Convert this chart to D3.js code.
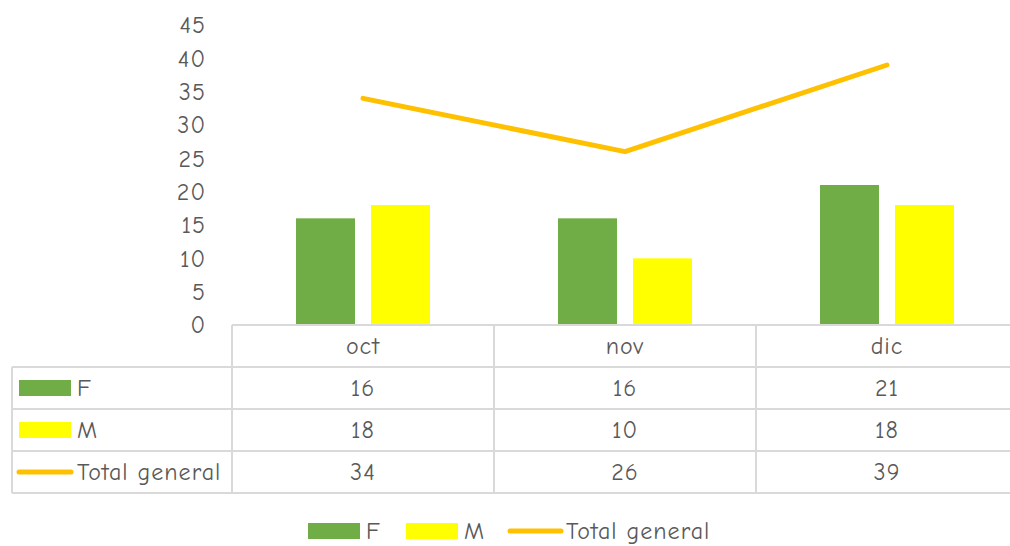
<!DOCTYPE html>
<html>
<head>
<meta charset="utf-8">
<script src="https://cdn.jsdelivr.net/npm/d3@7"></script>
<style>
  body { margin: 0; background: #fff; }
  text { font-family: "Comic Sans MS", "Comic Neue", "DejaVu Sans", sans-serif; fill: #595959; }
</style>
</head>
<body>
<div id="chart"></div>
<script>
const months = ['oct', 'nov', 'dic'];
const fVals = [16, 16, 21];
const mVals = [18, 10, 18];
const totalVals = [34, 26, 39];
const yTicks = [0, 5, 10, 15, 20, 25, 30, 35, 40, 45];

const width = 1010, height = 546;
const colF = '#70AD47', colM = '#FFFF00', colT = '#FFC000';
const grid = '#D9D9D9';
const fs = '24px', ls = '1px';

const svg = d3.select('#chart').append('svg')
  .attr('width', width).attr('height', height);

const x = d3.scaleBand().domain(months).range([232, 1018]);
const x1 = d3.scaleBand().domain(['F', 'M']).range([64, 198]).paddingInner(0.213);
const y = d3.scaleLinear().domain([0, 45]).range([325, 25]);

// y axis labels
svg.append('g').selectAll('text').data(yTicks).enter()
  .append('text')
  .attr('x', 206).attr('y', d => y(d))
  .attr('text-anchor', 'end').attr('dy', '0.35em')
  .style('font-size', fs).style('letter-spacing', ls)
  .text(d => d);

// bars
const rows = months.map((m, i) => ({m: m, F: fVals[i], M: mVals[i]}));
const g = svg.append('g');
rows.forEach(r => {
  ['F', 'M'].forEach(k => {
    g.append('rect')
      .attr('x', x(r.m) + x1(k))
      .attr('y', y(r[k]))
      .attr('width', x1.bandwidth())
      .attr('height', y(0) - y(r[k]))
      .attr('fill', k === 'F' ? colF : colM);
  });
});

// total line
const line = d3.line()
  .x((d, i) => x(months[i]) + x.bandwidth() / 2)
  .y(d => y(d));
svg.append('path').datum(totalVals)
  .attr('d', line)
  .attr('fill', 'none').attr('stroke', colT)
  .attr('stroke-width', 5).attr('stroke-linecap', 'round').attr('stroke-linejoin', 'round');

// data table
const rowH = 42, tableTop = 325, leftEdge = 12;
const tbl = svg.append('g').attr('stroke', grid).attr('stroke-width', 2).attr('fill', 'none');
tbl.append('line').attr('x1', 232).attr('x2', width).attr('y1', tableTop).attr('y2', tableTop);
for (let i = 1; i <= 4; i++) {
  tbl.append('line').attr('x1', leftEdge).attr('x2', width)
    .attr('y1', tableTop + i * rowH).attr('y2', tableTop + i * rowH);
}
tbl.append('line').attr('x1', leftEdge).attr('x2', leftEdge).attr('y1', tableTop + rowH).attr('y2', tableTop + 4 * rowH);
months.forEach(m => {
  tbl.append('line').attr('x1', x(m)).attr('x2', x(m)).attr('y1', tableTop).attr('y2', tableTop + 4 * rowH);
});

// header
svg.append('g').selectAll('text').data(months).enter()
  .append('text')
  .attr('x', d => x(d) + x.bandwidth() / 2)
  .attr('y', tableTop + rowH / 2).attr('dy', '0.35em')
  .attr('text-anchor', 'middle').style('font-size', fs).style('letter-spacing', ls)
  .text(d => d);

const series = [
  {name: 'F', vals: fVals, color: colF, type: 'bar'},
  {name: 'M', vals: mVals, color: colM, type: 'bar'},
  {name: 'Total general', vals: totalVals, color: colT, type: 'line'}
];

series.forEach((s, si) => {
  const cy = tableTop + (si + 1) * rowH + rowH / 2;
  if (s.type === 'bar') {
    svg.append('rect').attr('x', 19).attr('y', cy - 8).attr('width', 52).attr('height', 16).attr('fill', s.color);
  } else {
    svg.append('line').attr('x1', 19).attr('x2', 71).attr('y1', cy).attr('y2', cy)
      .attr('stroke', s.color).attr('stroke-width', 5).attr('stroke-linecap', 'round');
  }
  svg.append('text').attr('x', 77).attr('y', cy).attr('dy', '0.35em')
    .style('font-size', fs).style('letter-spacing', ls).text(s.name);
  s.vals.forEach((v, i) => {
    svg.append('text')
      .attr('x', x(months[i]) + x.bandwidth() / 2).attr('y', cy).attr('dy', '0.35em')
      .attr('text-anchor', 'middle').style('font-size', fs).style('letter-spacing', ls)
      .text(v);
  });
});

// bottom legend
const legX = [308, 406, 508];
series.forEach((s, i) => {
  const cy = 531;
  if (s.type === 'bar') {
    svg.append('rect').attr('x', legX[i]).attr('y', cy - 8).attr('width', 52).attr('height', 16).attr('fill', s.color);
  } else {
    svg.append('line').attr('x1', legX[i] + 2).attr('x2', legX[i] + 53).attr('y1', cy).attr('y2', cy)
      .attr('stroke', s.color).attr('stroke-width', 5).attr('stroke-linecap', 'round');
  }
  svg.append('text').attr('x', legX[i] + 58).attr('y', cy).attr('dy', '0.35em')
    .style('font-size', fs).style('letter-spacing', ls).text(s.name);
});
</script>
</body>
</html>
